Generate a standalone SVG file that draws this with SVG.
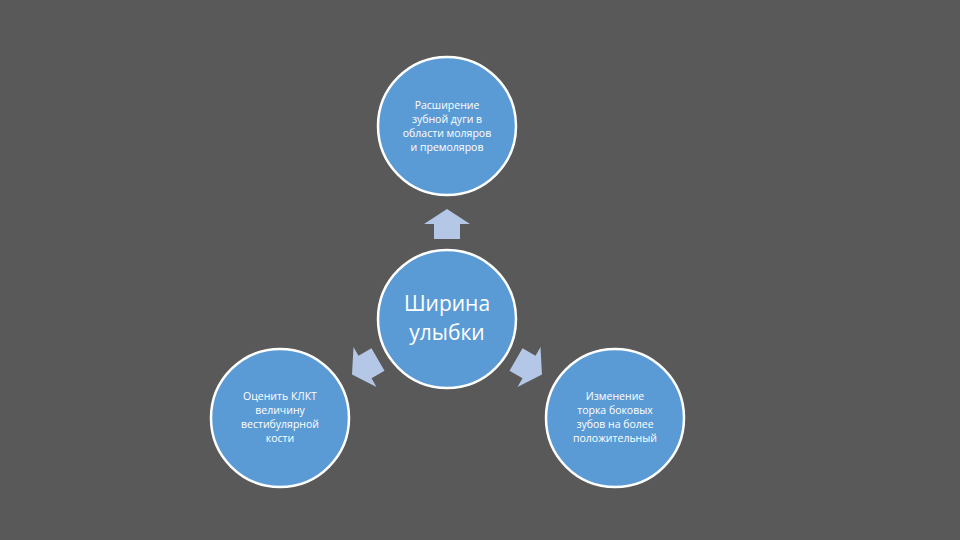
<svg xmlns="http://www.w3.org/2000/svg" width="960" height="540" viewBox="0 0 960 540">
<style>
.c{fill:#5b9bd5;stroke:#fff;stroke-width:2.5}
.t{font-family:"Open Sans","Liberation Sans",sans-serif;fill:#fff;text-anchor:middle;font-size:10.5px}
.b{font-size:21px}
.a{fill:#b4c7e7}
</style>
<defs><polygon id="arr" points="0,-15 23,0 13,0 13,15 -13,15 -13,0 -23,0"/></defs>
<rect width="960" height="540" fill="#595959"/>
<g id="connectors">
<use href="#arr" class="a" transform="translate(447,224)"/>
<use href="#arr" class="a" transform="translate(365,367) rotate(240)"/>
<use href="#arr" class="a" transform="translate(529,367) rotate(120)"/>
</g>
<g id="center"><circle class="c" cx="447" cy="319" r="69"/>
<text class="t b" x="447" y="311">Ширина</text><text class="t b" x="447" y="340">улыбки</text></g>
<g id="top"><circle class="c" cx="447" cy="126" r="69"/>
<text class="t" x="447" y="109">Расширение</text><text class="t" x="447" y="123">зубной дуги в</text><text class="t" x="447" y="137">области моляров</text><text class="t" x="447" y="151">и премоляров</text></g>
<g id="left"><circle class="c" cx="280" cy="418" r="69"/>
<text class="t" x="280" y="400">Оценить КЛКТ</text><text class="t" x="280" y="414">величину</text><text class="t" x="280" y="428">вестибулярной</text><text class="t" x="280" y="442">кости</text></g>
<g id="right"><circle class="c" cx="615" cy="418" r="69"/>
<text class="t" x="615" y="400">Изменение</text><text class="t" x="615" y="414">торка боковых</text><text class="t" x="615" y="428">зубов на более</text><text class="t" x="615" y="442">положительный</text></g>
</svg>
